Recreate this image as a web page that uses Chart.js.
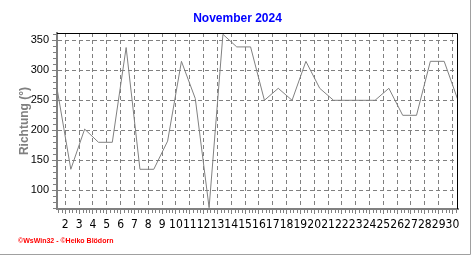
<!DOCTYPE html>
<html>
<head>
<meta charset="utf-8">
<script src="https://cdn.jsdelivr.net/npm/chart.js@4/dist/chart.umd.min.js"></script>
<style>
    body { margin: 0; background: #ffffff; }
    canvas { display: block; }
</style>
</head>
<body>
<canvas id="chart" width="472" height="255"></canvas>
<script>

var days = [1, 2, 3, 4, 5, 6, 7, 8, 9, 10, 11, 12, 13, 14, 15, 16, 17, 18, 19, 20, 21, 22, 23, 24, 25, 26, 27, 28, 29, 30];
var directions = [270, 135, 202, 180, 180, 338, 135, 135, 182, 315, 253, 71, 360, 339, 339, 250, 270, 250, 315, 270, 250, 250, 250, 250, 270, 225, 225, 315, 315, 250];
var dayLabels = ['2', '3', '4', '5', '6', '7', '8', '9', '10', '11', '12', '13', '14', '15', '16', '17', '18', '19', '20', '21', '22', '23', '24', '25', '26', '27', '28', '29', '30'];
var yTicks = [100, 150, 200, 250, 300, 350];

var chartTitle = 'November 2024';
var yTitle = 'Richtung (°)';
var footerText = '©WsWin32 - ©Heiko Blödorn';

var gray = '#808080';

// title, top/right border, minor ticks, frame and the footer line
var decoPlugin = {
    id: 'deco',
    afterDraw: function (chart) {
        var ctx = chart.ctx;
        var area = chart.chartArea;
        var xs = chart.scales.x;
        var ys = chart.scales.y;

        ctx.save();
        ctx.fillStyle = '#0000ff';
        ctx.font = 'bold 12px "Liberation Sans", Arial, sans-serif';
        ctx.textAlign = 'center';
        ctx.textBaseline = 'middle';
        ctx.fillText(chartTitle, 237.5, 18.5);

        ctx.strokeStyle = '#000000';
        ctx.lineWidth = 1;
        ctx.beginPath();
        ctx.moveTo(area.left, area.top + 0.5);
        ctx.lineTo(area.right - 0.5, area.top + 0.5);
        ctx.lineTo(area.right - 0.5, area.bottom);
        ctx.stroke();

        // minor ticks
        ctx.strokeStyle = gray;
        ctx.beginPath();
        for (var v = 70; v <= 360; v += 10) {
            if (v % 50 === 0) continue;
            var py = Math.round(ys.getPixelForValue(v)) + 0.5;
            ctx.moveTo(area.left - 4, py);
            ctx.lineTo(area.left - 1, py);
        }
        for (var i = 0; i < dayLabels.length; i++) {
            var base = parseInt(dayLabels[i]) - 0.4;
            for (var j = -3; j <= 3; j++) {
                if (j === 0) continue;
                var val = base + j * 0.25;
                if (val < xs.min || val > xs.max) continue;
                if (j < 0 && i > 0) continue;
                var px = Math.round(xs.getPixelForValue(val)) + 0.5;
                ctx.moveTo(px, area.bottom + 1);
                ctx.lineTo(px, area.bottom + 4);
            }
        }
        ctx.stroke();

        // outer frame
        ctx.strokeStyle = '#a0a0a0';
        ctx.beginPath();
        ctx.moveTo(470.5, 0);
        ctx.lineTo(470.5, 254.5);
        ctx.lineTo(0, 254.5);
        ctx.stroke();

        ctx.fillStyle = '#ff0000';
        ctx.font = 'bold 7px "Liberation Sans", Arial, sans-serif';
        ctx.textBaseline = 'middle';
        ctx.textAlign = 'left';
        ctx.fillText(footerText, 18, 241.5);
        ctx.restore();
    }
};

var config = {
    type: 'line',
    data: {
        datasets: [
            {
                label: yTitle,
                data: directions.map(function (v, i) { return {x: days[i], y: v}; }),
                borderColor: gray,
                borderWidth: 1,
                pointRadius: 0,
                fill: false,
                tension: 0
            }
        ]
    },
    options: {
        responsive: false,
        animation: false,
        layout: {
            padding: {left: 0, right: 14, top: 33, bottom: 0}
        },
        plugins: {
            legend: {display: false},
            tooltip: {enabled: false},
            title: {display: false}
        },
        scales: {
            x: {
                type: 'linear',
                min: 1,
                max: 30,
                afterBuildTicks: function (scale) {
                    scale.ticks = dayLabels.map(function (d) { return {value: parseInt(d) - 0.4}; });
                },
                afterFit: function (scale) {
                    scale.height = 46;
                },
                ticks: {
                    autoSkip: false,
                    maxRotation: 0,
                    padding: 4,
                    color: '#000000',
                    font: {family: '"Liberation Sans Narrow", "DejaVu Sans Condensed", Arial, sans-serif', size: 12},
                    callback: function (value, index) { return dayLabels[index]; }
                },
                grid: {
                    color: gray,
                    tickColor: gray,
                    tickLength: 5,
                    lineWidth: 1
                },
                border: {display: true, color: gray, width: 2, dash: [4, 3]}
            },
            y: {
                type: 'linear',
                min: 68.8,
                max: 362.2,
                afterBuildTicks: function (scale) {
                    scale.ticks = yTicks.map(function (v) { return {value: v}; });
                },
                afterFit: function (scale) {
                    scale.width = 57;
                },
                title: {
                    display: true,
                    text: yTitle,
                    color: gray,
                    font: {family: '"Liberation Sans", Arial, sans-serif', size: 12, weight: 'bold'},
                    padding: {top: 17, bottom: 0}
                },
                ticks: {
                    padding: 3,
                    color: '#000000',
                    font: {family: '"Liberation Sans", Arial, sans-serif', size: 11}
                },
                grid: {
                    color: gray,
                    tickColor: gray,
                    tickLength: 5,
                    lineWidth: 1
                },
                border: {display: true, color: gray, width: 2, dash: [4, 3]}
            }
        }
    },
    plugins: [decoPlugin]
};

var ctx = document.getElementById('chart').getContext('2d');
var chart = new Chart(ctx, config);

</script>
</body>
</html>
